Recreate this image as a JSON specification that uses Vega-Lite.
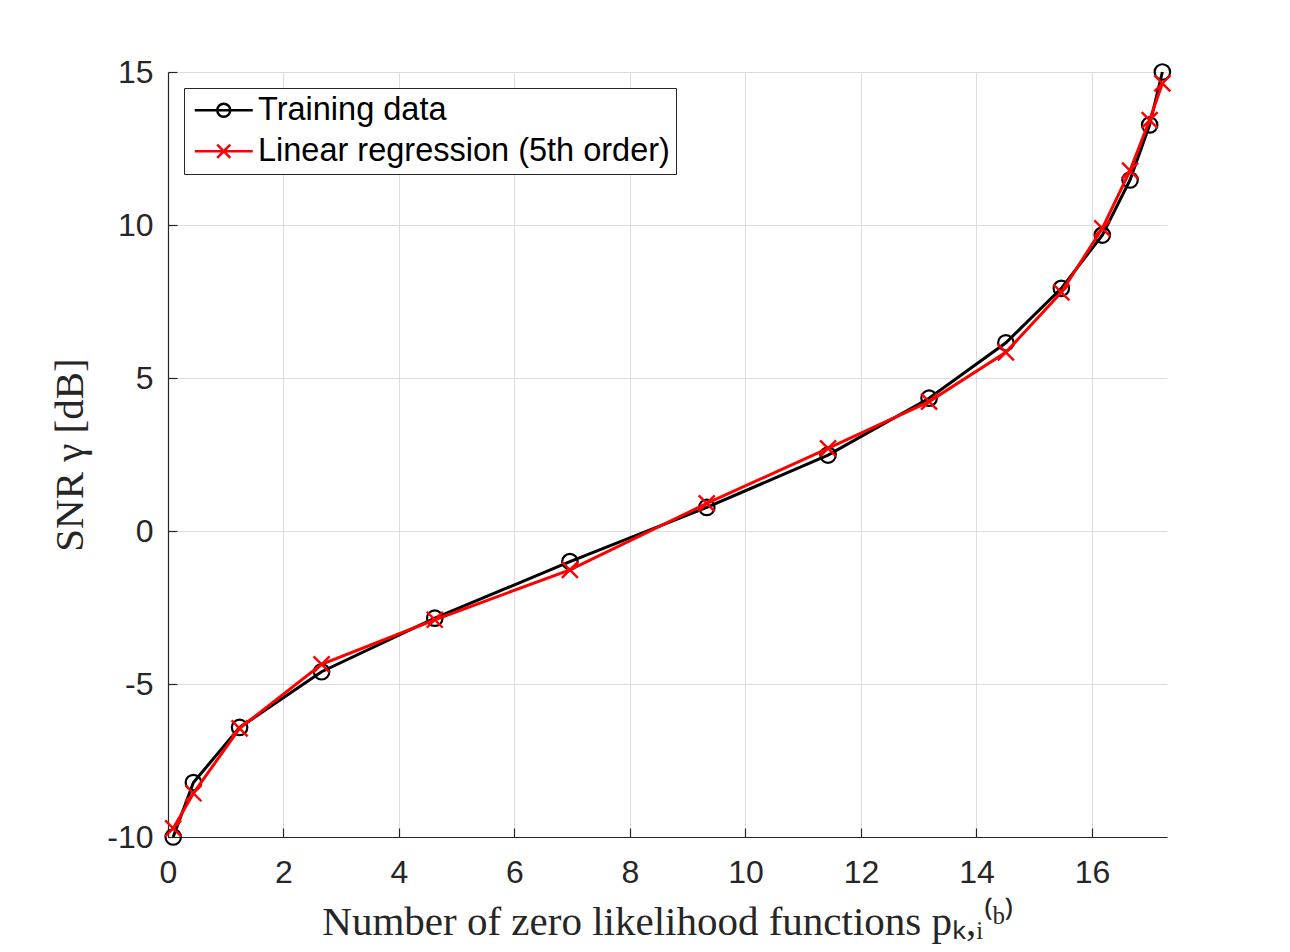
{
  "$schema": "https://vega.github.io/schema/vega-lite/v6.json",
  "width": 999,
  "height": 765,
  "autosize": {"type": "none"},
  "padding": {"left": 168, "top": 72, "right": 123, "bottom": 115},
  "background": "white",
  "config": {
    "view": {"stroke": null},
    "axis": {
      "grid": true,
      "gridColor": "#dcdcdc",
      "gridWidth": 1,
      "domainColor": "#262626",
      "domainWidth": 1.2,
      "tickColor": "#262626",
      "tickSize": -9,
      "tickWidth": 1.2,
      "labelFont": "Liberation Sans",
      "labelFontSize": 32,
      "labelColor": "#262626",
      "labelFlush": false,
      "titleFont": "Liberation Serif",
      "titleFontSize": 41,
      "titleFontWeight": "normal",
      "titleColor": "#262626"
    },
    "legend": {
      "title": null,
      "orient": "none",
      "legendX": 16,
      "legendY": 16,
      "padding": 6,
      "fillColor": "white",
      "strokeColor": "#262626",
      "strokeWidth": 1,
      "symbolSize": 841,
      "symbolOffset": 17.5,
      "symbolStrokeWidth": 2.5,
      "labelOffset": 18,
      "labelFont": "Liberation Sans",
      "labelFontSize": 32.5,
      "labelColor": "#000000",
      "labelLimit": 600,
      "rowPadding": 8
    }
  },
  "data": {
    "values": [
      {"x": 0.09, "y": -10.0, "series": "Training data"},
      {"x": 0.44, "y": -8.22, "series": "Training data"},
      {"x": 1.24, "y": -6.42, "series": "Training data"},
      {"x": 2.66, "y": -4.6, "series": "Training data"},
      {"x": 4.62, "y": -2.85, "series": "Training data"},
      {"x": 6.96, "y": -1.0, "series": "Training data"},
      {"x": 9.33, "y": 0.77, "series": "Training data"},
      {"x": 11.43, "y": 2.48, "series": "Training data"},
      {"x": 13.18, "y": 4.34, "series": "Training data"},
      {"x": 14.51, "y": 6.15, "series": "Training data"},
      {"x": 15.47, "y": 7.93, "series": "Training data"},
      {"x": 16.18, "y": 9.67, "series": "Training data"},
      {"x": 16.66, "y": 11.47, "series": "Training data"},
      {"x": 17.0, "y": 13.27, "series": "Training data"},
      {"x": 17.22, "y": 15.0, "series": "Training data"},
      {"x": 0.09, "y": -9.72, "series": "Linear regression (5th order)"},
      {"x": 0.44, "y": -8.57, "series": "Linear regression (5th order)"},
      {"x": 1.24, "y": -6.45, "series": "Linear regression (5th order)"},
      {"x": 2.66, "y": -4.36, "series": "Linear regression (5th order)"},
      {"x": 4.62, "y": -2.9, "series": "Linear regression (5th order)"},
      {"x": 6.96, "y": -1.27, "series": "Linear regression (5th order)"},
      {"x": 9.33, "y": 0.9, "series": "Linear regression (5th order)"},
      {"x": 11.43, "y": 2.7, "series": "Linear regression (5th order)"},
      {"x": 13.18, "y": 4.23, "series": "Linear regression (5th order)"},
      {"x": 14.51, "y": 5.84, "series": "Linear regression (5th order)"},
      {"x": 15.47, "y": 7.8, "series": "Linear regression (5th order)"},
      {"x": 16.18, "y": 9.89, "series": "Linear regression (5th order)"},
      {"x": 16.66, "y": 11.78, "series": "Linear regression (5th order)"},
      {"x": 17.0, "y": 13.43, "series": "Linear regression (5th order)"},
      {"x": 17.22, "y": 14.63, "series": "Linear regression (5th order)"}
    ]
  },
  "encoding": {
    "x": {
      "field": "x",
      "type": "quantitative",
      "scale": {"domain": [0, 17.3], "nice": false, "zero": false},
      "axis": {
        "values": [0, 2, 4, 6, 8, 10, 12, 14, 16],
        "labelPadding": 29,
        "title": "Number of zero likelihood functions pₖ,ᵢ⁽ᵇ⁾",
        "titleX": 499.5,
        "titleY": 97,
        "titleBaseline": "alphabetic"
      }
    },
    "y": {
      "field": "y",
      "type": "quantitative",
      "scale": {"domain": [-10, 15], "nice": false, "zero": false},
      "axis": {
        "values": [-10, -5, 0, 5, 10, 15],
        "labelPadding": 24,
        "labelExpr": "replace(datum.label, '−', '-')",
        "title": "SNR γ [dB]",
        "titleX": -86,
        "titleY": 382.5,
        "titleBaseline": "alphabetic"
      }
    },
    "color": {
      "field": "series",
      "type": "nominal",
      "title": null,
      "scale": {
        "domain": ["Training data", "Linear regression (5th order)"],
        "range": ["#000000", "#ff0000"]
      }
    }
  },
  "layer": [
    {
      "transform": [{"filter": "datum.series == 'Training data'"}],
      "mark": {
        "type": "line",
        "strokeWidth": 3,
        "point": {"shape": "circle", "filled": false, "size": 240, "strokeWidth": 2.2}
      }
    },
    {
      "transform": [{"filter": "datum.series != 'Training data'"}],
      "mark": {
        "type": "line",
        "strokeWidth": 3,
        "point": {"shape": "M-1,-1L1,1M-1,1L1,-1", "filled": false, "size": 256, "strokeWidth": 2.4}
      }
    },
    {
      "transform": [{"filter": "datum.x < 0"}],
      "mark": {"type": "point", "filled": false},
      "encoding": {
        "shape": {
          "field": "series",
          "type": "nominal",
          "title": null,
          "scale": {
            "domain": ["Training data", "Linear regression (5th order)"],
            "range": [
              "M-2,0H2M0.45,0A0.45,0.45 0 1,1 -0.45,0A0.45,0.45 0 1,1 0.45,0",
              "M-2,0H2M-0.45,-0.45L0.45,0.45M-0.45,0.45L0.45,-0.45"
            ]
          }
        }
      }
    }
  ]
}
